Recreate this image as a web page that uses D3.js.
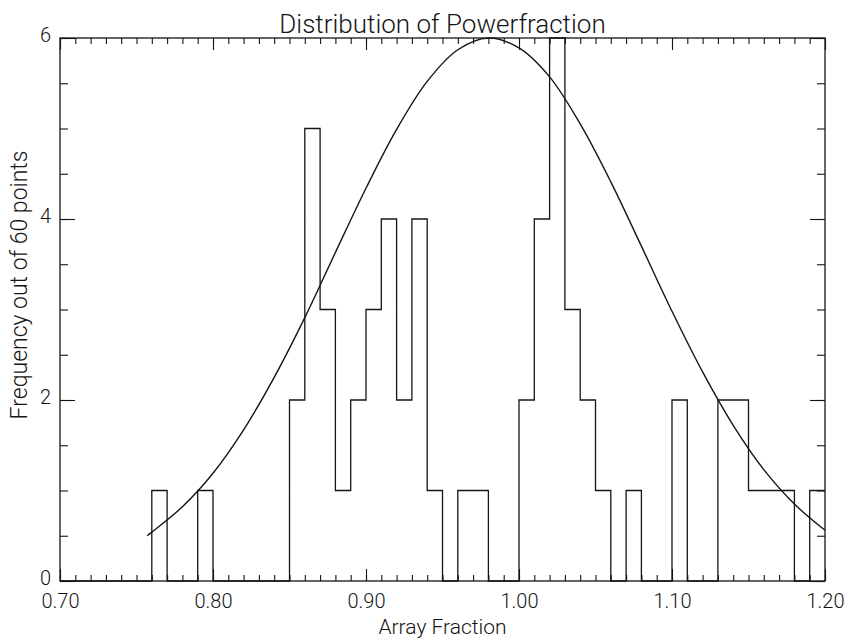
<!DOCTYPE html>
<html>
<head>
<meta charset="utf-8">
<script src="https://cdn.jsdelivr.net/npm/d3@7"></script>
<style>
  html, body { margin: 0; padding: 0; background: #ffffff; }
  svg { display: block; }
  text { font-family: Roboto, "Liberation Sans", "DejaVu Sans", sans-serif; font-weight: 300; fill: #151515; }
</style>
</head>
<body>
<svg id="chart" width="845" height="639"></svg>
<script>
// Histogram of array fraction: bins of width 0.01 starting at 0.70
const binStart = 0.70;
const binWidth = 0.01;
const binCounts = [
  0, 0, 0, 0, 0, 0, 1, 0, 0, 1,   // 0.70 - 0.79
  0, 0, 0, 0, 0, 2, 5, 3, 1, 2,   // 0.80 - 0.89
  3, 4, 2, 4, 1, 0, 1, 1, 0, 0,   // 0.90 - 0.99
  2, 4, 6, 3, 2, 1, 0, 1, 0, 0,   // 1.00 - 1.09
  2, 0, 0, 2, 2, 1, 1, 1, 0, 1    // 1.10 - 1.19
];

// Fitted normal curve, sampled along x
const curveX = [0.757, 0.76, 0.78, 0.80, 0.82, 0.84, 0.86, 0.88, 0.90, 0.92, 0.94, 0.96, 0.98,
                1.00, 1.02, 1.04, 1.06, 1.08, 1.10, 1.12, 1.14, 1.16, 1.18, 1.20];
const curveY = [0.50, 0.54, 0.82, 1.19, 1.67, 2.25, 2.91, 3.63, 4.34, 4.99, 5.52, 5.87, 6.00,
                5.89, 5.57, 5.05, 4.41, 3.70, 2.98, 2.31, 1.72, 1.23, 0.85, 0.56];

// Axis ticks
const xMajorTicks = [0.70, 0.80, 0.90, 1.00, 1.10, 1.20];
const xMinorTicks = d3.range(70, 121).map(v => v / 100);
const yMajorTicks = [0, 2, 4, 6];
const yMinorTicks = [0, 0.5, 1, 1.5, 2, 2.5, 3, 3.5, 4, 4.5, 5, 5.5, 6];

const titleText = "Distribution of Powerfraction";
const xTitle = "Array Fraction";
const yTitle = "Frequency out of 60 points";

const W = 845, H = 639;
const margin = { top: 38, right: 20, bottom: 58, left: 60 };
const iw = W - margin.left - margin.right;
const ih = H - margin.top - margin.bottom;

const svg = d3.select("#chart");
const g = svg.append("g").attr("transform", `translate(${margin.left},${margin.top})`);

const x = d3.scaleLinear().domain([0.70, 1.20]).range([0, iw]);
const y = d3.scaleLinear().domain([0, 6]).range([ih, 0]);

const ink = "#151515";
const fontStack = "Roboto, 'Liberation Sans', sans-serif";

function styleAxis(sel) {
  sel.select(".domain").remove();
  sel.selectAll(".tick line").attr("stroke", ink).attr("stroke-width", 1.1);
  sel.selectAll(".tick text").attr("font-size", 20).attr("fill", ink)
     .attr("font-family", fontStack).attr("font-weight", 300);
}

// Minor ticks on all four sides (pointing inward)
g.append("g").attr("transform", `translate(0,${ih})`)
  .call(d3.axisBottom(x).tickValues(xMinorTicks).tickSize(-6).tickFormat(""))
  .call(styleAxis);
g.append("g")
  .call(d3.axisTop(x).tickValues(xMinorTicks).tickSize(-6).tickFormat(""))
  .call(styleAxis);
g.append("g")
  .call(d3.axisLeft(y).tickValues(yMinorTicks).tickSize(-8).tickFormat(""))
  .call(styleAxis);
g.append("g").attr("transform", `translate(${iw},0)`)
  .call(d3.axisRight(y).tickValues(yMinorTicks).tickSize(-8).tickFormat(""))
  .call(styleAxis);

// Major ticks with labels
g.append("g").attr("transform", `translate(0,${ih})`)
  .call(d3.axisBottom(x).tickValues(xMajorTicks).tickSize(-12).tickPadding(13)
        .tickFormat(d3.format(".2f")))
  .call(styleAxis);
g.append("g")
  .call(d3.axisTop(x).tickValues(xMajorTicks).tickSize(-12).tickFormat(""))
  .call(styleAxis);
g.append("g")
  .call(d3.axisLeft(y).tickValues(yMajorTicks).tickSize(-15).tickPadding(9)
        .tickFormat(d3.format("d")))
  .call(styleAxis)
  .call(sel => sel.selectAll(".tick text").attr("dy", "0.15em"));
g.append("g").attr("transform", `translate(${iw},0)`)
  .call(d3.axisRight(y).tickValues(yMajorTicks).tickSize(-15).tickFormat(""))
  .call(styleAxis);

// Plot frame
g.append("rect")
  .attr("x", 0).attr("y", 0).attr("width", iw).attr("height", ih)
  .attr("fill", "none").attr("stroke", ink).attr("stroke-width", 1.3);

// Histogram outline (stepped)
const steps = binCounts.map((c, i) => [binStart + i * binWidth, c]);
steps.push([binStart + binCounts.length * binWidth, binCounts[binCounts.length - 1]]);
g.append("path")
  .datum(steps)
  .attr("fill", "none")
  .attr("stroke", ink)
  .attr("stroke-width", 1.3)
  .attr("d", d3.line().x(d => x(d[0])).y(d => y(d[1])).curve(d3.curveStepAfter));

// Fitted curve
g.append("path")
  .datum(curveX.map((v, i) => [v, curveY[i]]))
  .attr("fill", "none")
  .attr("stroke", ink)
  .attr("stroke-width", 1.4)
  .attr("d", d3.line().x(d => x(d[0])).y(d => y(d[1])).curve(d3.curveCatmullRom));

// Titles
svg.append("text")
  .attr("x", margin.left + iw / 2).attr("y", 33)
  .attr("text-anchor", "middle").attr("font-size", 26)
  .text(titleText);

svg.append("text")
  .attr("x", margin.left + iw / 2).attr("y", 634)
  .attr("text-anchor", "middle").attr("font-size", 21)
  .text(xTitle);

svg.append("text")
  .attr("transform", `translate(27,285) rotate(-90)`)
  .attr("text-anchor", "middle").attr("font-size", 23)
  .text(yTitle);
</script>
</body>
</html>
